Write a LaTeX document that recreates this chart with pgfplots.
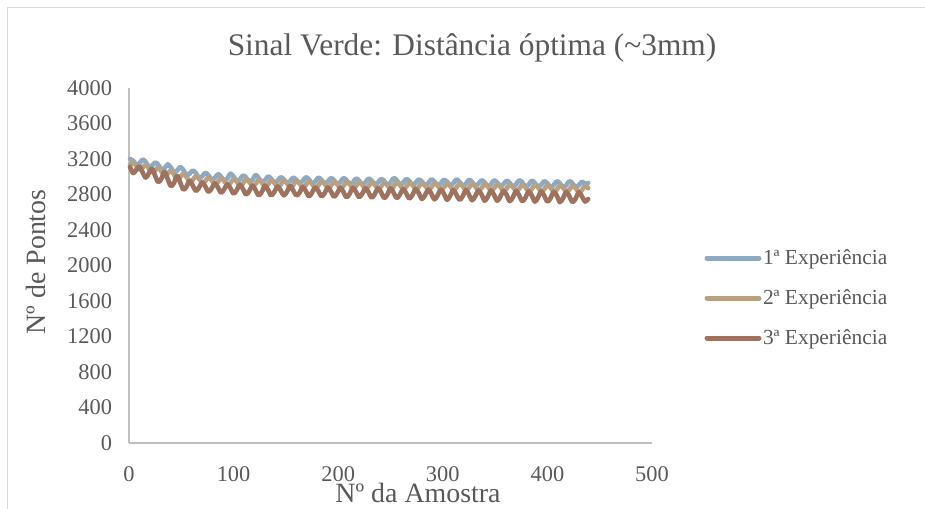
\documentclass[border=0pt]{standalone}
\usepackage{pgfplots}
\pgfplotsset{compat=1.18}
\usepackage{fontspec}
\setmainfont{Liberation Serif}

\definecolor{textgray}{HTML}{595959}
\definecolor{axisgray}{HTML}{BFBFBF}
\definecolor{framegray}{HTML}{D9D9D9}
\definecolor{expA}{HTML}{8FAAC0}
\definecolor{expB}{HTML}{B9A083}
\definecolor{expC}{HTML}{9D725F}

\begin{document}
\begin{tikzpicture}[x=1bp,y=1bp]
\useasboundingbox (0,0) rectangle (925,509);
% chart area border
\draw[framegray, line width=1bp] (7,0) -- (7,501) -- (925,501);

\begin{axis}[
  at={(129bp,66bp)}, anchor=south west,
  scale only axis, width=523bp, height=355bp,
  xmin=0, xmax=500, ymin=0, ymax=4000,
  axis lines*=left,
  axis line style={color=axisgray, line width=1.2bp},
  major tick length=0pt,
  xtick={0,100,...,500}, ytick={0,400,...,4000},
  tick label style={font=\fontsize{22.5}{26}\selectfont, text=textgray},
  /pgf/number format/assume math mode=true,
  /pgf/number format/1000 sep={},
  xticklabel style={anchor=base, yshift=-39bp},
  yticklabel style={anchor=east, xshift=-13.5bp},
  clip=false,
  legend style={draw=none, fill=none, at={(axis description cs:1.10,0.408)}, anchor=west,
    font=\fontsize{21.5}{25}\selectfont, text=textgray, row sep=20.5bp, inner sep=0pt,
    nodes={inner sep=1.5bp}},
  legend cell align=left,
  legend image code/.code={\draw[#1, line width=5bp, line cap=round] (0bp,0bp) -- (52bp,0bp);},
  every axis plot/.append style={line width=4.6bp, line join=round, line cap=round, smooth, tension=0.55},
]
\addplot[expA] coordinates {
(1,3200)(4,3180)(7,3135)(10,3150)(13,3195)(16,3165)(19,3115)(22,3125)(25,3160)(28,3135)
(31,3085)(34,3095)(37,3140)(40,3105)(43,3055)(46,3070)(49,3110)(52,3075)(55,3020)(58,3035)
(61,3070)(64,3040)(67,2990)(70,3005)(73,3045)(76,3015)(79,2970)(82,2985)(85,3030)(88,3000)
(91,2960)(94,2980)(97,3035)(100,3000)(103,2955)(106,2970)(109,3015)(112,2990)(115,2950)(118,2965)
(121,3020)(124,2985)(127,2945)(130,2960)(133,3005)(136,2975)(139,2935)(142,2955)(145,2995)(148,2970)
(151,2930)(154,2950)(157,2990)(160,2965)(163,2930)(166,2950)(169,2995)(172,2970)(175,2925)(178,2945)
(181,2990)(184,2965)(187,2925)(190,2945)(193,2985)(196,2960)(199,2920)(202,2940)(205,2985)(208,2960)
(211,2920)(214,2935)(217,2980)(220,2955)(223,2915)(226,2935)(229,2980)(232,2955)(235,2915)(238,2935)
(241,2975)(244,2950)(247,2910)(250,2935)(253,2985)(256,2960)(259,2915)(262,2930)(265,2975)(268,2950)
(271,2910)(274,2930)(277,2970)(280,2945)(283,2905)(286,2925)(289,2970)(292,2945)(295,2905)(298,2925)
(301,2965)(304,2945)(307,2905)(310,2925)(313,2970)(316,2940)(319,2900)(322,2920)(325,2965)(328,2940)
(331,2900)(334,2920)(337,2960)(340,2935)(343,2895)(346,2915)(349,2960)(352,2935)(355,2895)(358,2915)
(361,2955)(364,2930)(367,2890)(370,2915)(373,2960)(376,2935)(379,2890)(382,2910)(385,2955)(388,2930)
(391,2890)(394,2910)(397,2950)(400,2925)(403,2885)(406,2905)(409,2950)(412,2925)(415,2885)(418,2905)
(421,2950)(424,2925)(427,2885)(430,2905)(433,2945)(436,2920)(439,2930)
};
\addlegendentry{1ª Experiência}
\addplot[expB] coordinates {
(1,3130)(4,3160)(7,3120)(10,3080)(13,3100)(16,3135)(19,3095)(22,3050)(25,3070)(28,3105)
(31,3060)(34,3015)(37,3035)(40,3070)(43,3025)(46,2975)(49,2995)(52,3035)(55,2995)(58,2950)
(61,2965)(64,3010)(67,2975)(70,2935)(73,2950)(76,2995)(79,2960)(82,2920)(85,2940)(88,2985)
(91,2950)(94,2910)(97,2930)(100,2975)(103,2945)(106,2905)(109,2925)(112,2970)(115,2940)(118,2900)
(121,2920)(124,2965)(127,2935)(130,2895)(133,2915)(136,2960)(139,2930)(142,2890)(145,2910)(148,2960)
(151,2925)(154,2885)(157,2905)(160,2955)(163,2925)(166,2885)(169,2905)(172,2950)(175,2920)(178,2880)
(181,2900)(184,2950)(187,2920)(190,2880)(193,2900)(196,2945)(199,2915)(202,2875)(205,2895)(208,2945)
(211,2915)(214,2875)(217,2895)(220,2940)(223,2910)(226,2870)(229,2890)(232,2940)(235,2910)(238,2870)
(241,2890)(244,2935)(247,2905)(250,2865)(253,2890)(256,2940)(259,2905)(262,2865)(265,2885)(268,2935)
(271,2905)(274,2865)(277,2885)(280,2930)(283,2900)(286,2860)(289,2880)(292,2930)(295,2900)(298,2860)
(301,2880)(304,2925)(307,2895)(310,2855)(313,2875)(316,2925)(319,2895)(322,2855)(325,2875)(328,2920)
(331,2890)(334,2850)(337,2870)(340,2920)(343,2890)(346,2850)(349,2870)(352,2915)(355,2885)(358,2845)
(361,2865)(364,2915)(367,2885)(370,2845)(373,2865)(376,2910)(379,2880)(382,2840)(385,2860)(388,2910)
(391,2880)(394,2840)(397,2860)(400,2905)(403,2875)(406,2835)(409,2855)(412,2905)(415,2875)(418,2835)
(421,2855)(424,2900)(427,2870)(430,2830)(433,2850)(436,2900)(439,2870)
};
\addlegendentry{2ª Experiência}
\addplot[expC] coordinates {
(1,3110)(4,3040)(7,3080)(10,3115)(13,3050)(16,2990)(19,3040)(22,3090)(25,3010)(28,2940)
(31,2980)(34,3055)(37,2975)(40,2895)(43,2930)(46,3010)(49,2935)(52,2855)(55,2890)(58,2955)
(61,2900)(64,2840)(67,2880)(70,2935)(73,2890)(76,2830)(79,2870)(82,2925)(85,2880)(88,2820)
(91,2860)(94,2915)(97,2870)(100,2810)(103,2850)(106,2910)(109,2860)(112,2800)(115,2840)(118,2900)
(121,2850)(124,2790)(127,2830)(130,2900)(133,2850)(136,2790)(139,2830)(142,2890)(145,2845)(148,2790)
(151,2830)(154,2895)(157,2845)(160,2790)(163,2820)(166,2885)(169,2840)(172,2780)(175,2820)(178,2880)
(181,2840)(184,2780)(187,2815)(190,2880)(193,2835)(196,2775)(199,2815)(202,2875)(205,2830)(208,2770)
(211,2810)(214,2875)(217,2830)(220,2770)(223,2810)(226,2870)(229,2825)(232,2765)(235,2805)(238,2870)
(241,2825)(244,2760)(247,2800)(250,2870)(253,2820)(256,2760)(259,2800)(262,2860)(265,2815)(268,2755)
(271,2795)(274,2860)(277,2815)(280,2750)(283,2790)(286,2855)(289,2810)(292,2745)(295,2790)(298,2855)
(301,2810)(304,2740)(307,2785)(310,2850)(313,2800)(316,2740)(319,2780)(322,2850)(325,2800)(328,2735)
(331,2780)(334,2845)(337,2800)(340,2730)(343,2775)(346,2845)(349,2795)(352,2730)(355,2775)(358,2840)
(361,2795)(364,2725)(367,2770)(370,2840)(373,2790)(376,2725)(379,2765)(382,2835)(385,2790)(388,2720)
(391,2765)(394,2835)(397,2785)(400,2720)(403,2760)(406,2830)(409,2785)(412,2715)(415,2760)(418,2830)
(421,2780)(424,2715)(427,2755)(430,2825)(433,2780)(436,2720)(439,2750)
};
\addlegendentry{3ª Experiência}
\end{axis}

% titles
\node[text=textgray, font=\fontsize{31.5}{37}\selectfont] at (472,461) {Sinal Verde: Distância óptima (\textasciitilde3mm)};
\node[text=textgray, font=\fontsize{28}{33}\selectfont, rotate=90] at (36,247) {Nº de Pontos};
\node[text=textgray, font=\fontsize{28}{33}\selectfont] at (418,16) {Nº da Amostra};
\end{tikzpicture}
\end{document}
